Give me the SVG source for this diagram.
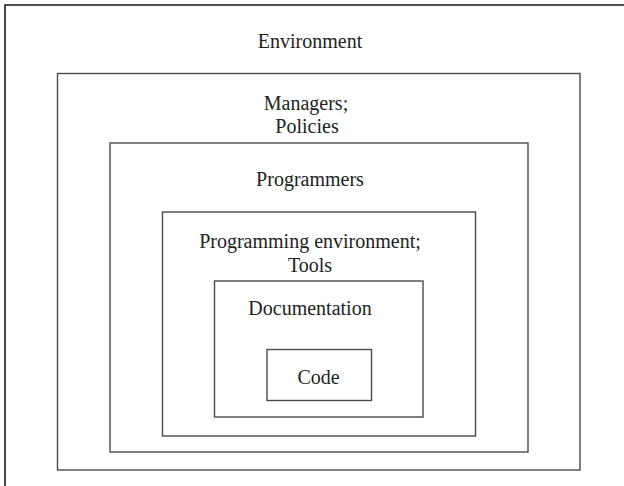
<svg xmlns="http://www.w3.org/2000/svg" width="624" height="486" viewBox="0 0 624 486">
<style>
.box{fill:none;stroke:#4a4a4a;stroke-width:1.4}
.frame{fill:none;stroke:#1a1a1a;stroke-width:1.6}
text{font-family:"Liberation Serif","Times New Roman",serif;font-size:20px;fill:#222;text-anchor:middle}
</style>
<rect width="624" height="486" fill="#fff"/>
<g id="environment">
<path class="frame" d="M5,486 V5 H624"/>
<text x="310" y="48">Environment</text>
</g>
<g id="managers">
<rect class="box" x="57.5" y="73.5" width="522.5" height="396.5"/>
<text x="306" y="110">Managers;</text>
<text x="307" y="133">Policies</text>
</g>
<g id="programmers">
<rect class="box" x="110" y="143" width="418" height="309"/>
<text x="310" y="186">Programmers</text>
</g>
<g id="progenv">
<rect class="box" x="162.5" y="212" width="313" height="224"/>
<text x="310" y="248">Programming environment;</text>
<text x="310" y="272">Tools</text>
</g>
<g id="documentation">
<rect class="box" x="214.5" y="281" width="208.5" height="136"/>
<text x="310" y="315">Documentation</text>
</g>
<g id="code">
<rect class="box" x="267" y="349.5" width="104.5" height="51"/>
<text x="318.5" y="384">Code</text>
</g>
<g id="connectors"></g>
</svg>
